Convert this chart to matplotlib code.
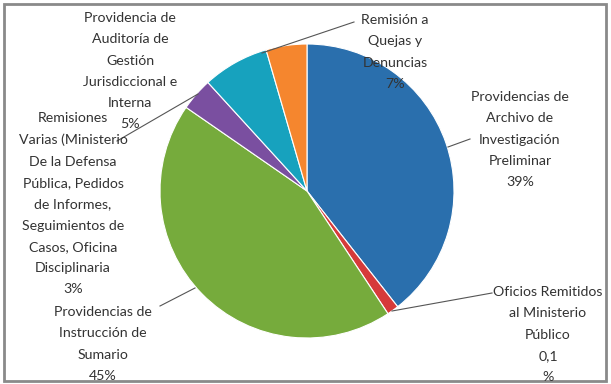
import matplotlib.pyplot as plt
from matplotlib.patches import Rectangle

plt.rcParams['font.family'] = ['Lato', 'DejaVu Sans']

# slices clockwise from 12 o'clock
categories = ['Providencias de\nArchivo de\nInvestigación\nPreliminar',
              'Oficios Remitidos\nal Ministerio\nPúblico',
              'Providencias de\nInstrucción de\nSumario',
              'Remisiones\nVarias (Ministerio\nDe la Defensa\nPública, Pedidos\nde Informes,\nSeguimientos de\nCasos, Oficina\nDisciplinaria',
              'Remisión a\nQuejas y\nDenuncias',
              'Providencia de\nAuditoría de\nGestión\nJurisdiccional e\nInterna']
values = [39.5, 1.3, 44, 3.6, 7.3, 4.5]
pct_labels = ['39%', '0,1\n%', '45%', '3%', '7%', '5%']
colors = ['#2a6fad', '#d63a3a', '#76ab3c', '#7a4fa0', '#17a2be', '#f5862e']

W, H = 611, 384
fig = plt.figure(figsize=(W / 100, H / 100), dpi=100)
ax = fig.add_axes([0, 0, 1, 1])
ax.axis('off')

ax.pie(values, colors=colors, startangle=90, counterclock=False,
       center=(307, H - 191), radius=147,
       wedgeprops=dict(edgecolor='white', linewidth=0.8))
ax.set_xlim(0, W)
ax.set_ylim(0, H)
ax.set_aspect('equal')

# label positions in pixels (x center, y of first line), leader lines
label_pos = [(520, 97), (548, 292), (103, 312), (73, 118), (395, 20), (130, 18)]
leaders = [[(448, 147), (470, 139)],
           [(392, 311), (492, 293)],
           [(195, 288), (160, 306)],
           [(198, 94), (117, 141)],
           [(262, 53), (354, 22)],
           None]

for name, pct, (x, y), ln in zip(categories, pct_labels, label_pos, leaders):
    ax.text(x, H - y + 6, name + '\n' + pct, ha='center', va='top',
            fontsize=10.2, color='#333333', linespacing=1.93)
    if ln is not None:
        ax.plot([p[0] for p in ln], [H - p[1] for p in ln],
                color='#555555', lw=0.8)

ax.add_patch(Rectangle((4, 3), 602, 377, fill=False, edgecolor='#8a8a8a',
                       lw=2, clip_on=False))

fig.savefig('out.png', dpi=100)
